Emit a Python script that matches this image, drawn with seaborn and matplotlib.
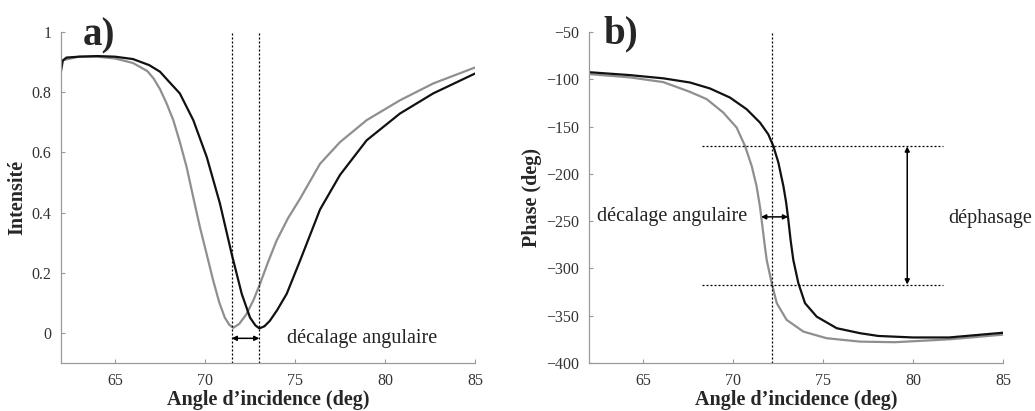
import matplotlib
matplotlib.use("Agg")
import matplotlib.pyplot as plt
import pandas as pd
import seaborn as sns

# ---- Panel a: intensity ----
a_gray_x = [62.0, 63.0, 64.0, 65.0, 66.0, 66.8, 67.15, 67.5, 67.85, 68.24, 68.6, 68.98, 69.35, 69.72, 70.1,
            70.46, 70.8, 71.1, 71.35, 71.57, 71.9, 72.3, 72.7, 73.05, 73.5, 73.98, 74.6, 75.28, 76.39,
            77.5, 78.98, 80.83, 82.68, 85.0]
a_gray_y = [0.905, 0.918, 0.918, 0.912, 0.897, 0.87, 0.845, 0.81, 0.765, 0.707, 0.635, 0.551, 0.45, 0.351,
            0.26, 0.173, 0.10, 0.051, 0.027, 0.017, 0.03, 0.062, 0.11, 0.162, 0.235, 0.307, 0.38, 0.446,
            0.562, 0.634, 0.707, 0.773, 0.829, 0.882]
a_black_x = [62.0, 62.1, 62.3, 63.0, 64.0, 65.0, 66.0, 66.9, 67.5, 68.0, 68.6, 69.35, 70.1, 70.83, 71.48,
             72.04, 72.5, 72.8, 73.02, 73.3, 73.6, 74.0, 74.54, 75.28, 76.39, 77.5, 78.98, 80.83, 82.68,
             85.0]
a_black_y = [0.87, 0.905, 0.915, 0.918, 0.92, 0.918, 0.91, 0.89, 0.868, 0.835, 0.796, 0.707, 0.584, 0.43,
             0.263, 0.13, 0.051, 0.025, 0.015, 0.022, 0.04, 0.075, 0.13, 0.24, 0.41, 0.525, 0.64, 0.729,
             0.796, 0.862]
a_vlines = [71.48, 73.02]
a_yticks = [0, 0.2, 0.4, 0.6, 0.8, 1]
a_yticklabels = ["0", "0.2", "0.4", "0.6", "0.8", "1"]

# ---- Panel b: phase ----
b_gray_x = [62.0, 64.28, 66.13, 67.61, 68.54, 69.46, 70.2, 70.67, 71.04, 71.31, 71.5, 71.65, 71.78, 71.87,
            72.15, 72.43, 72.98, 73.91, 75.2, 77.06, 79.0, 80.0, 82.0, 85.0]
b_gray_y = [-94.5, -98, -103, -113.3, -121, -135.2, -151, -170.6, -191.8, -213, -235, -258, -278, -290.8,
            -315.5, -336.7, -354.4, -366.8, -373.8, -377.4, -378, -377, -375, -370]
b_black_x = [62.0, 64.28, 66.13, 67.61, 68.72, 69.83, 70.76, 71.5, 71.96, 72.24, 72.52, 72.8, 72.95, 73.07,
             73.2, 73.35, 73.63, 74.0, 74.65, 75.76, 77.06, 78.07, 80.0, 82.0, 85.0]
b_black_y = [-92.5, -95.6, -99, -103.4, -109.7, -119.3, -131.7, -145.8, -158.2, -170.6, -188, -213, -230,
             -248, -270, -291, -315.5, -336.7, -351, -363.2, -368.5, -371.4, -373, -373, -368]
b_vline = 72.18
b_hlines = [-171, -317]
b_hline_span = [68.26, 81.65]
b_yticks = [-400, -350, -300, -250, -200, -150, -100, -50]
x_ticks = [65, 70, 75, 80, 85]

df_a = pd.DataFrame({
    "angle": a_gray_x + a_black_x,
    "val": a_gray_y + a_black_y,
    "curve": ["ref"] * len(a_gray_x) + ["shift"] * len(a_black_x),
})
df_b = pd.DataFrame({
    "angle": b_gray_x + b_black_x,
    "val": b_gray_y + b_black_y,
    "curve": ["ref"] * len(b_gray_x) + ["shift"] * len(b_black_x),
})

sns.set_theme(style="white")
plt.rcParams["font.family"] = ["Liberation Serif", "DejaVu Serif"]
plt.rcParams["axes.unicode_minus"] = True

palette = {"ref": "#8f8f8f", "shift": "#111111"}
spine_col = "#9a9a9a"
tick_col = "#333333"
dot = (0, (1.6, 1.6))

fig = plt.figure(figsize=(10.35, 4.11), dpi=100)
axa = fig.add_axes([61 / 1035, 1 - 363 / 411, 414 / 1035, 331 / 411])
axb = fig.add_axes([589 / 1035, 1 - 363 / 411, 414 / 1035, 331 / 411])

for ax, df in ((axa, df_a), (axb, df_b)):
    sns.lineplot(data=df, x="angle", y="val", hue="curve", palette=palette,
                 hue_order=["ref", "shift"], linewidth=1.6, legend=False, ax=ax, sort=False)
    sns.despine(ax=ax)
    for s in ("left", "bottom"):
        ax.spines[s].set_color(spine_col)
        ax.spines[s].set_linewidth(0.9)
    ax.tick_params(direction="in", length=3, width=0.8, color=spine_col,
                   labelsize=11.5, labelcolor=tick_col, pad=7, left=True, bottom=True)
    ax.set_xlim(62, 85)
    ax.set_xticks(x_ticks)
    ax.set_xlabel("Angle d’incidence (deg)", fontsize=14.5, fontweight="bold", labelpad=1)

# Panel a
axa.set_ylim(-0.1, 1)
axa.set_yticks(a_yticks)
axa.set_yticklabels(a_yticklabels)
axa.set_ylabel("Intensité", fontsize=14.5, fontweight="bold", labelpad=3)
for xv in a_vlines:
    axa.axvline(xv, color="black", lw=0.9, ls=dot)
axa.annotate("", xy=(a_vlines[1], -0.018), xytext=(a_vlines[0], -0.018),
             arrowprops=dict(arrowstyle="<|-|>", color="black", lw=1.1,
                             shrinkA=0, shrinkB=0, mutation_scale=7))
axa.text(74.55, -0.018, "décalage angulaire", fontsize=14.5, va="center", ha="left", color="#222222")
axa.text(0.053, 0.96, "a)", transform=axa.transAxes, fontsize=28, fontweight="bold",
         va="baseline", ha="left")

# Panel b
axb.set_ylim(-400, -50)
axb.set_yticks(b_yticks)
axb.set_ylabel("Phase (deg)", fontsize=14.5, fontweight="bold", labelpad=3)
axb.axvline(b_vline, color="black", lw=0.9, ls=dot)
for yv in b_hlines:
    axb.hlines(yv, b_hline_span[0], b_hline_span[1], color="black", lw=0.9, ls=dot)
axb.annotate("", xy=(79.68, b_hlines[0]), xytext=(79.68, b_hlines[1]),
             arrowprops=dict(arrowstyle="<|-|>", color="black", lw=1.1,
                             shrinkA=0, shrinkB=0, mutation_scale=7))
axb.annotate("", xy=(73.06, -245.5), xytext=(71.56, -245.5),
             arrowprops=dict(arrowstyle="<|-|>", color="black", lw=1.1,
                             shrinkA=0, shrinkB=0, mutation_scale=7))
axb.text(70.8, -245.5, "décalage angulaire", fontsize=14.5, va="center", ha="right", color="#222222")
axb.text(81.94, -247, "déphasage", fontsize=14.5, va="center", ha="left", color="#222222")
axb.text(0.034, 0.967, "b)", transform=axb.transAxes, fontsize=28, fontweight="bold",
         va="baseline", ha="left")

fig.savefig("out.png", dpi=100)
